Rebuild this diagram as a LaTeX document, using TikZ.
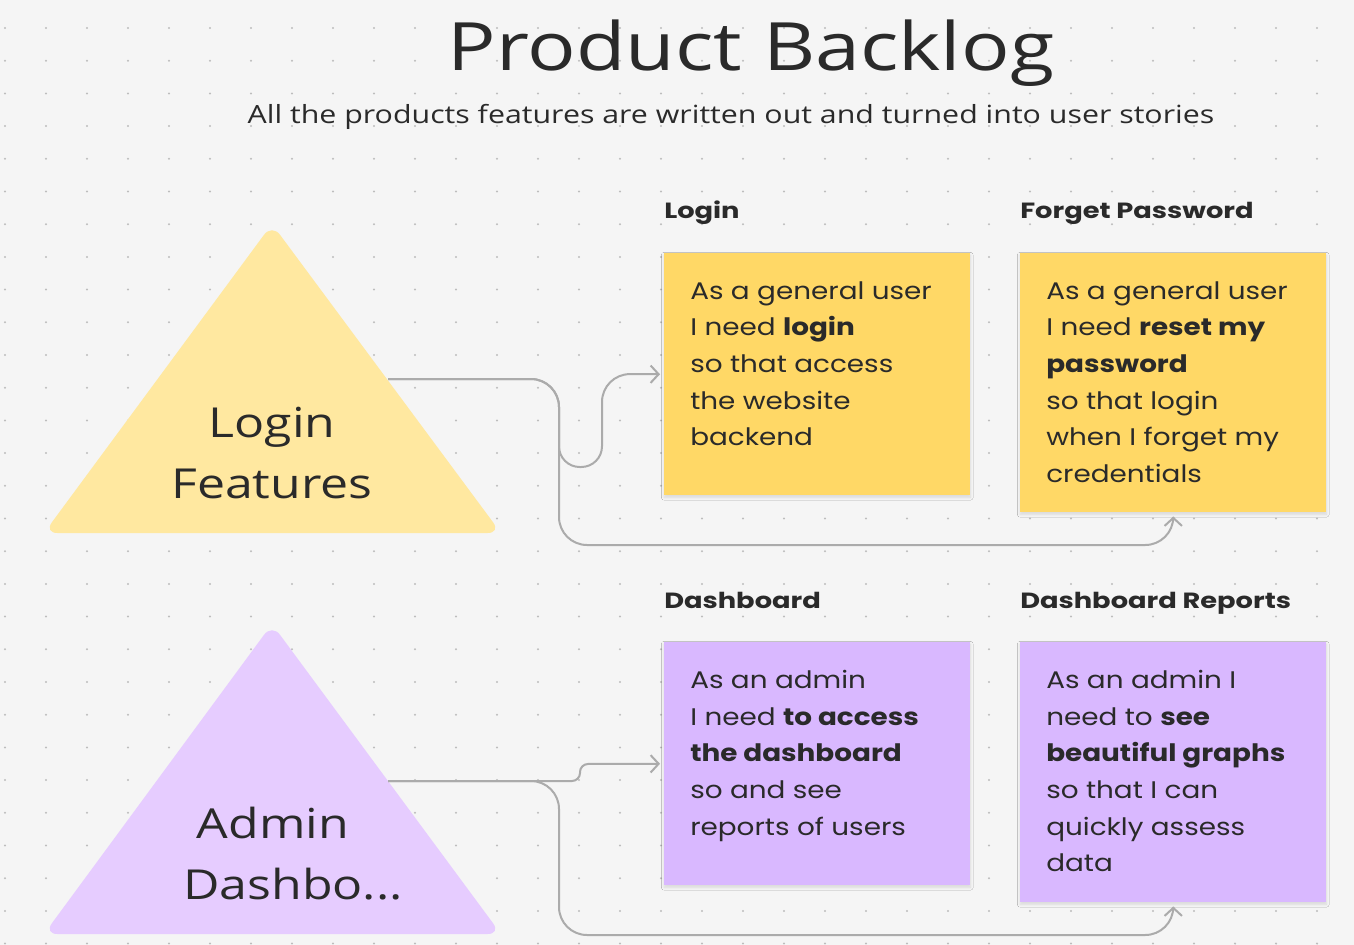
\documentclass[tikz,border=0pt]{standalone}
\usepackage{fontspec}
\setmainfont{Poppins}[FakeStretch=1.16]
\newfontfamily\titlefont{Open Sans}[FakeStretch=1.21]
\newfontfamily\lblfont{Poppins}[FakeStretch=1.24]
\usetikzlibrary{positioning,arrows.meta,shadows.blur}
\definecolor{fond}{HTML}{F5F5F5}
\definecolor{pointc}{HTML}{BDBDBD}
\definecolor{ink}{HTML}{2A2A2A}
\definecolor{lienc}{HTML}{ABABAB}
\definecolor{noteY}{HTML}{FFD866}
\definecolor{noteP}{HTML}{D9B8FF}
\definecolor{triY}{HTML}{FFE8A0}
\definecolor{triP}{HTML}{E6CCFF}
\tikzset{
  note/.style = {rectangle, inner sep=0pt, anchor=north west,
    minimum width=229.5pt, blur shadow={shadow xshift=0pt,
    shadow yshift=-1.5pt, shadow blur steps=6, shadow opacity=12}},
  note_y/.style = {note, fill=noteY},% note jaune
  note_p/.style = {note, fill=noteP},% note violette
  note_txt/.style = {align=left, inner sep=0pt, text=ink,
    font=\fontsize{18}{27.5}\selectfont},
  note_lbl/.style = {inner sep=0pt, text=ink,
    font=\lblfont\bfseries\fontsize{16.5}{20}\selectfont},
  tri_y/.style = {fill=triY, rounded corners=10pt},% triangle jaune
  tri_p/.style = {fill=triP, rounded corners=10pt},% triangle violet
  tri_txt/.style = {align=center, inner sep=0pt, text=ink,
    font=\titlefont\fontsize{31}{45.75}\selectfont},
  lien/.style = {draw=lienc, line width=1.5pt,
    -{Straight Barb[length=6pt,width=13pt]}, shorten >=3pt}
}

\begin{document}
\begin{tikzpicture}[x=0.75pt, y=-0.75pt]
\useasboundingbox (0,0) rectangle (1354,945);
\fill[fond] (0,0) rectangle (1354,945);
\foreach \i in {0,...,32}
  \foreach \j in {0,...,28}
    \fill[pointc] (5+41*\i, 28+32.7*\j) circle (0.85pt);

% titre
\node[inner sep=0pt, anchor=base, text=ink, font=\titlefont\fontsize{50}{60}\selectfont]
  (titre) at (751,71) {Product Backlog};
\node[inner sep=0pt, anchor=base, text=ink, font=\titlefont\fontsize{18.8}{24}\selectfont]
  (soustitre) at (731,124) {All the products features are written out and turned into user stories};

% triangles
\fill[tri_y] (272,224) -- (501,533) -- (44,533) -- cycle;
\node[tri_txt] (loginf) at (272,453) {Login\\Features};
\coordinate (loginf_out) at (388,379);
\fill[tri_p] (272,624) -- (501,934) -- (44,934) -- cycle;
\node[tri_txt] (admin) at (273,854) {Admin\\\hspace*{30pt}Dashbo...};
\coordinate (admin_out) at (388,781);

% notes
\node[note_y, minimum height=181.5pt] (login) at (664,253) {};
\node[note_y, minimum height=194.25pt] (forget) at (1020,253) {};
\node[note_p, minimum height=182.25pt] (dash) at (664,642) {};
\node[note_p, minimum height=195pt] (reports) at (1020,642) {};

\node[note_lbl, above right=25.5pt and 0pt of login.north west, anchor=base west] (login_lbl) {Login};
\node[note_lbl, above right=25.5pt and 0pt of forget.north west, anchor=base west] (forget_lbl) {Forget Password};
\node[note_lbl, above right=25.5pt and 0pt of dash.north west, anchor=base west] (dash_lbl) {Dashboard};
\node[note_lbl, above right=25.5pt and 0pt of reports.north west, anchor=base west] (reports_lbl) {Dashboard Reports};

\node[note_txt, below right=21pt and 19.5pt of login.north west] (login_txt)
  {As a general user\\I need \textbf{login}\\so that access\\the website\\backend};
\node[note_txt, below right=21pt and 19.5pt of forget.north west] (forget_txt)
  {As a general user\\I need \textbf{reset my}\\\textbf{password}\\so that login\\when I forget my\\credentials};
\node[note_txt, below right=21pt and 19.5pt of dash.north west] (dash_txt)
  {As an admin\\I need \textbf{to access}\\\textbf{the dashboard}\\so and see\\reports of users};
\node[note_txt, below right=21pt and 19.5pt of reports.north west] (reports_txt)
  {As an admin I\\need to \textbf{see}\\\textbf{beautiful graphs}\\so that I can\\quickly assess\\data};

% liens
\draw[lien, rounded corners=21pt] (loginf_out) -- (559,379)
  [rounded corners=15.5pt] -- (559,467) -- (602,467)
  [rounded corners=21pt] -- (602,374) -- (login.west);
\draw[lien, rounded corners=21pt] (loginf_out) -- (559,379) -- (559,545)
  -- (forget.south |- 0,545) -- (forget.south);
\draw[lien, rounded corners=6pt] (admin_out) -- (580,781) -- (580,764) -- (dash.west);
\draw[lien, rounded corners=21pt] (admin_out) -- (559,781) -- (559,935)
  -- (reports.south |- 0,935) -- (reports.south);
\end{tikzpicture}
\end{document}
